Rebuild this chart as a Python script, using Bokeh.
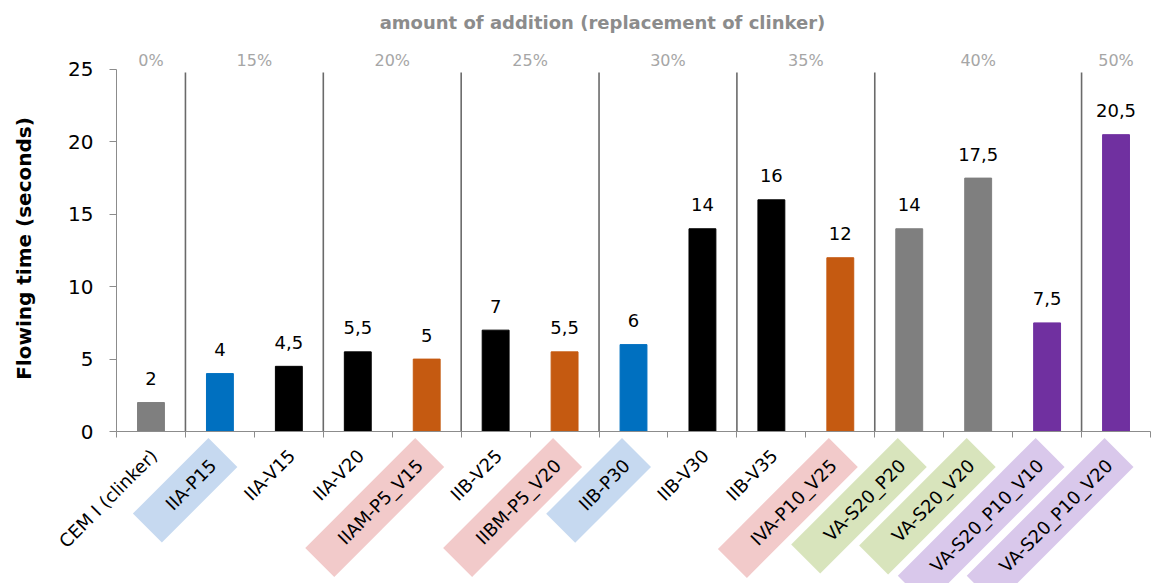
import math
from bokeh.plotting import figure
from bokeh.models import Label, LabelSet, Range1d, FixedTicker, ColumnDataSource
from bokeh.core.properties import value
from bokeh.embed import file_html
from bokeh.resources import INLINE

categories = ["CEM I (clinker)", "IIA-P15", "IIA-V15", "IIA-V20", "IIAM-P5_V15",
              "IIB-V25", "IIBM-P5_V20", "IIB-P30", "IIB-V30", "IIB-V35",
              "IVA-P10_V25", "VA-S20_P20", "VA-S20_V20", "VA-S20_P10_V10", "VA-S20_P10_V20"]
values = [2, 4, 4.5, 5.5, 5, 7, 5.5, 6, 14, 16, 12, 14, 17.5, 7.5, 20.5]
groups = ["0%", "15%", "15%", "20%", "20%", "25%", "25%", "30%", "30%",
          "35%", "35%", "40%", "40%", "40%", "50%"]
bar_colors = ["#7f7f7f", "#0070c0", "#000000", "#000000", "#c55a11",
              "#000000", "#c55a11", "#0070c0", "#000000", "#000000",
              "#c55a11", "#7f7f7f", "#7f7f7f", "#7030a0", "#7030a0"]
label_bg = [None, "#c6d9f0", None, None, "#f2caca",
            None, "#f2caca", "#c6d9f0", None, None,
            "#f2caca", "#d8e4bc", "#d8e4bc", "#d9c8eb", "#d9c8eb"]
y_ticks = [0, 5, 10, 15, 20, 25]
title_text = "amount of addition (replacement of clinker)"
y_label = "Flowing time (seconds)"

FONT = "DejaVu Sans"

n = len(categories)
xc = [i + 0.5 for i in range(n)]
value_text = [("%g" % v).replace(".", ",") for v in values]

# frame spans the whole canvas; both axes are pinned at 0
p = figure(width=1152, height=583, output_backend="svg", toolbar_location=None,
           x_range=Range1d(-1.683, 15.029), y_range=Range1d(-10.497, 29.765),
           min_border_left=0, min_border_right=0, min_border_top=0, min_border_bottom=0)
p.outline_line_color = None
p.xgrid.visible = False
p.ygrid.visible = False
p.background_fill_color = "white"

src = ColumnDataSource(dict(x=xc, top=values, color=bar_colors, txt=value_text))
p.vbar(x="x", top="top", bottom=0, width=0.39, color="color", source=src)

# group separators and group labels
bounds = [i for i in range(1, n) if groups[i] != groups[i - 1]]
p.segment(x0=bounds, y0=[0] * len(bounds), x1=bounds, y1=[24.8] * len(bounds),
          line_color="#6a6a6a", line_width=1.6)
starts = [0] + bounds
ends = bounds + [n]
for s, e in zip(starts, ends):
    p.add_layout(Label(x=(s + e) / 2, y=25.62, text=groups[s], text_align="center",
                       text_baseline="middle", text_font=FONT, text_font_size="16px",
                       text_color="#a6a6a6"))

p.add_layout(Label(x=n / 2 - 0.45, y=28.25, text=title_text, text_align="center",
                   text_baseline="middle", text_font=FONT, text_font_size="18px",
                   text_font_style="bold", text_color="#8c8c8c"))

p.add_layout(LabelSet(x="x", y="top", text="txt", source=src, text_align="center",
                      text_baseline="middle", y_offset=24, text_font=value(FONT),
                      text_font_size="18px", text_color="#000000"))

# y axis
ya = p.yaxis[0]
ya.fixed_location = 0
ya.bounds = (0, 25)
ya.ticker = FixedTicker(ticks=y_ticks)
ya.axis_line_color = "#8c8c8c"
ya.major_tick_line_color = "#8c8c8c"
ya.major_tick_out = 7
ya.major_tick_in = 0
ya.minor_tick_line_color = None
ya.major_label_text_font = FONT
ya.major_label_text_font_size = "20px"
ya.major_label_text_color = "#000000"
ya.major_label_standoff = 16

p.add_layout(Label(x=-1.335, y=12.64, text=y_label, angle=math.pi / 2,
                   text_align="center", text_baseline="middle", text_font=FONT,
                   text_font_size="20px", text_font_style="bold", text_color="#000000"))

# x axis (drawn at y = 0)
xa = p.xaxis[0]
xa.fixed_location = 0
xa.bounds = (0, n)
xa.ticker = FixedTicker(ticks=list(range(n + 1)))
xa.axis_line_color = "#8c8c8c"
xa.major_tick_line_color = "#8c8c8c"
xa.major_tick_out = 6
xa.major_tick_in = 0
xa.minor_tick_line_color = None
xa.major_label_text_font_size = "0px"
xa.major_label_text_alpha = 0
xa.major_label_standoff = 0

for i, cat in enumerate(categories):
    kw = {}
    if label_bg[i] is not None:
        kw = dict(background_fill_color=label_bg[i],
                  padding=dict(left=30, right=14, top=10, bottom=10))
    p.add_layout(Label(x=xc[i], y=0, text=cat, angle=math.pi / 4, text_align="right",
                       text_baseline="middle", x_offset=3, y_offset=-21,
                       text_font=FONT, text_font_size="18px", text_color="#000000", **kw))

open("out.html", "w").write(file_html(p, INLINE))
